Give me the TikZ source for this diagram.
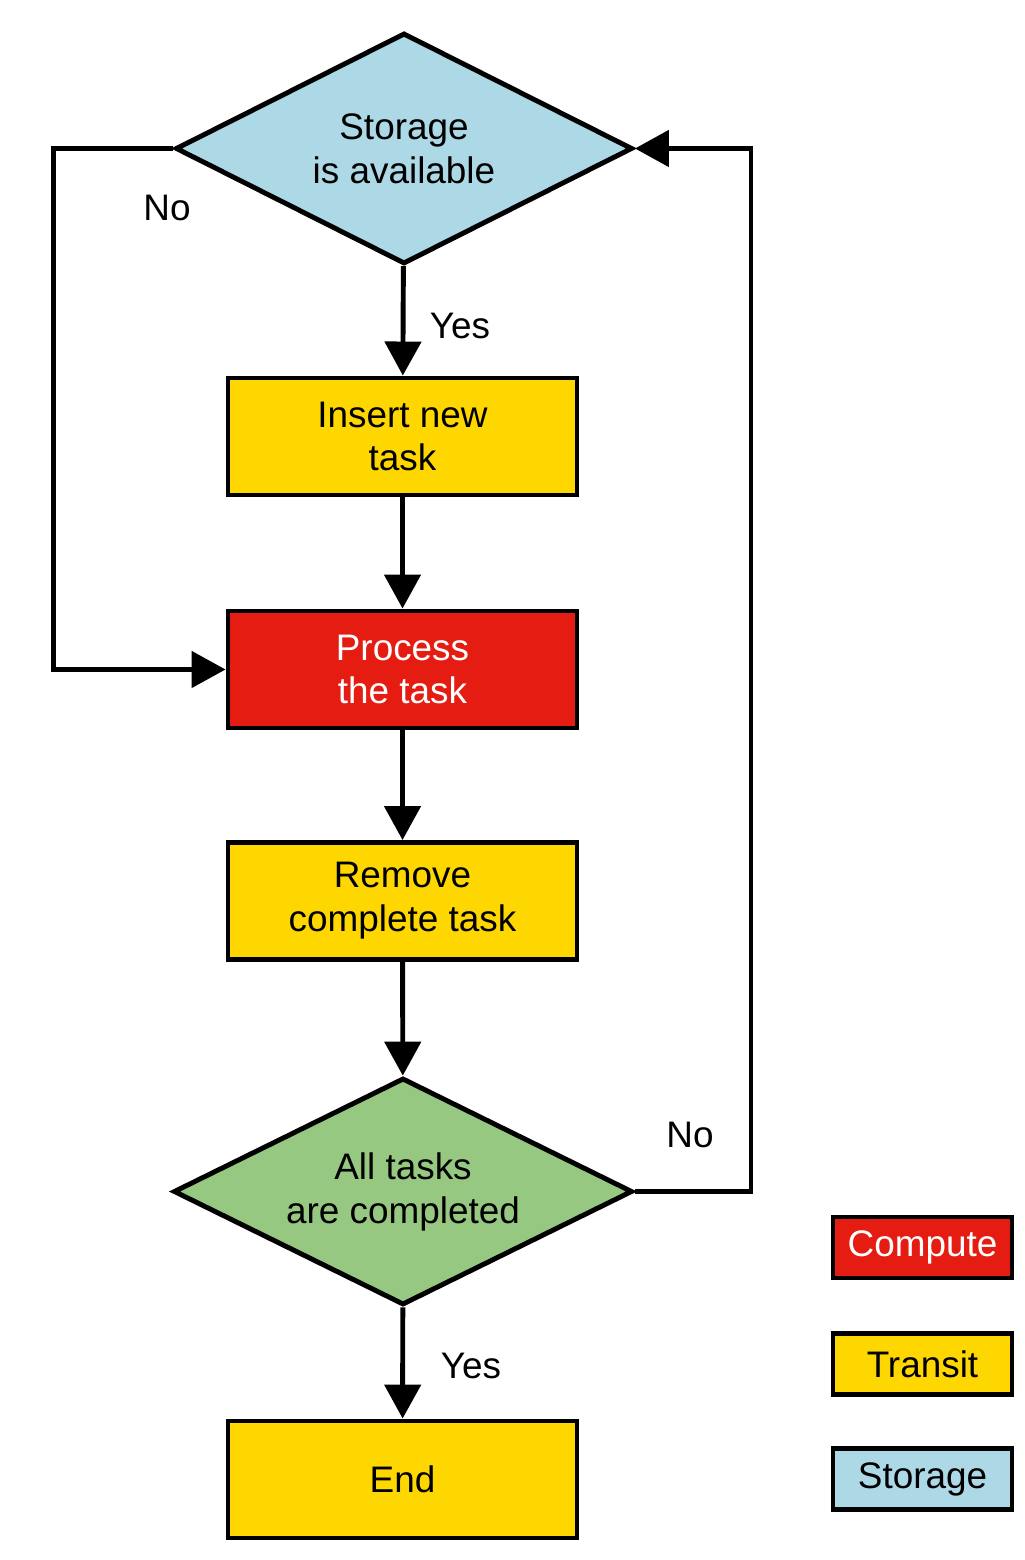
\documentclass[tikz,border=0pt]{standalone}
\usepackage{fontspec}
\setmainfont{Liberation Sans}
\usetikzlibrary{shapes.geometric,arrows.meta}
\definecolor{computered}{RGB}{228,28,18}
\definecolor{transityellow}{RGB}{255,215,0}
\definecolor{storageblue}{RGB}{173,216,230}
\definecolor{checkgreen}{RGB}{150,200,130}
\tikzset{
  box/.style={draw=black,line width=1.4pt,minimum width=3.49cm,minimum height=1.17cm,
    align=center,font=\fontsize{10.5}{12.5}\selectfont},
  decision/.style={diamond,aspect=2,draw=black,line width=1.4pt,inner sep=0pt,
    minimum width=4.57cm,minimum height=2.31cm,align=center,font=\fontsize{10.5}{12.5}\selectfont},
  legendbox/.style={draw=black,line width=1.4pt,minimum width=1.79cm,minimum height=0.61cm,
    inner sep=0pt,font=\fontsize{10.5}{12.5}\selectfont},
  flow/.style={line width=1.4pt,-{Triangle[length=0.34cm,width=0.36cm]}},
  lbl/.style={font=\fontsize{10.5}{12.5}\selectfont}
}
\begin{document}
\begin{tikzpicture}
\useasboundingbox (0,0) rectangle (10.24,-15.6);

\node[decision,fill=storageblue] (store) at (4.04,-1.485) {Storage\\is available};
\node[box,fill=transityellow] (insert) at (4.025,-4.365) {Insert new\\task};
\node[box,fill=computered,text=white] (process) at (4.025,-6.695) {Process\\the task};
\node[box,fill=transityellow] (remove) at (4.025,-9.01) {Remove\\complete task};
\node[decision,fill=checkgreen,minimum height=2.27cm,minimum width=4.59cm] (done) at (4.03,-11.915) {All tasks\\are completed};
\node[box,fill=transityellow] (end) at (4.025,-14.795) {End};

\draw[flow] (store) -- (insert);
\draw[flow] (insert) -- (process);
\draw[flow] (process) -- (remove);
\draw[flow] (remove) -- (done);
\draw[flow] (done) -- (end);

\draw[flow] (store.west) -- ++(-1.2,0) |- (process.west);
\draw[flow] (done.east) -- ++(1.16,0) |- (store.east);

\node[lbl] (nostore) at (1.67,-2.08) {No};
\node[lbl] (yesstore) at (4.60,-3.26) {Yes};
\node[lbl] (nodone) at (6.90,-11.35) {No};
\node[lbl] (yesdone) at (4.71,-13.66) {Yes};

\node[legendbox,fill=computered,text=white] (compute) at (9.225,-12.475) {Compute};
\node[legendbox,fill=transityellow] (transit) at (9.225,-13.64) {Transit};
\node[legendbox,fill=storageblue] (storage) at (9.225,-14.79) {Storage};

\end{tikzpicture}
\end{document}
